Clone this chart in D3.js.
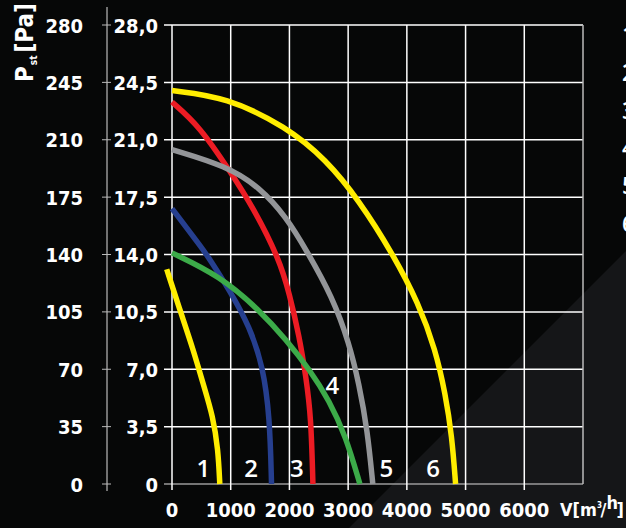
<!DOCTYPE html>
<html>
<head>
<meta charset="utf-8">
<script src="https://cdn.jsdelivr.net/npm/d3@7"></script>
<style>
  html, body { margin: 0; padding: 0; background: #060707; overflow: hidden; }
  svg { display: block; }
  .lbl { font-family: "Liberation Sans Narrow", "DejaVu Sans Condensed", sans-serif; font-weight: bold; fill: #fff; }
  .num { font-family: "Open Sans", "DejaVu Sans", sans-serif; font-weight: 600; fill: #fff; }
</style>
</head>
<body>
<svg width="626" height="528"></svg>
<script>
// ticks
var paTicks = [0, 35, 70, 105, 140, 175, 210, 245, 280];
var mmTicks = ["0", "3,5", "7,0", "10,5", "14,0", "17,5", "21,0", "24,5", "28,0"];
var flowTicks = [0, 1000, 2000, 3000, 4000, 5000, 6000];

// fan curves, [m3/h, Pa]
var curve1 = [[-90, 131], [136, 106], [362, 82], [531, 61], [700, 41], [785, 21], [814, 0]];
var curve2 = [[0, 168], [531, 143], [644, 137], [983, 118], [1322, 96], [1548, 72], [1665, 41], [1695, 0]];
var curve3 = [[0, 233], [475, 218], [983, 191], [1378, 169], [1830, 137], [2000, 116], [2169, 90], [2283, 65], [2368, 41], [2400, 0]];
var curve4 = [[0, 141], [814, 127], [1492, 106], [1944, 88], [2339, 70], [2678, 51], [2961, 29], [3200, 0]];
var curve5 = [[0, 204], [927, 194], [1492, 181], [1944, 163], [2283, 143], [2734, 114], [3017, 86], [3186, 61], [3328, 33], [3420, 0]];
var curve6 = [[0, 240], [927, 236], [1944, 218], [2622, 198], [3186, 173], [3751, 141], [4203, 110], [4486, 82], [4656, 55], [4768, 29], [4830, 0]];

var curveNames = ["1", "2", "3", "4", "5", "6"];
var curveColors = ["#ffed00", "#263f8f", "#ec1c24", "#3cab49", "#939598", "#ffed00"];
// where each number sits, [m3/h, Pa]
var labelPos = [[534, 4], [1347, 4], [2127, 4], [2730, 55], [3653, 4], [4449, 4]];

var svg = d3.select("svg");

// lighter diagonal in the lower right corner
svg.append("path")
  .attr("d", "M349,528 L626,251 L626,528 Z")
  .attr("fill", "#151618");

var x = d3.scaleLinear().domain([0, 7000]).range([172, 583]);
var y = d3.scaleLinear().domain([0, 280]).range([484, 25]);

// grid
var grid = svg.append("g");
grid.selectAll("line.h")
  .data(paTicks)
  .enter().append("line")
  .attr("x1", 164).attr("x2", x(7000))
  .attr("y1", d => y(d)).attr("y2", d => y(d))
  .attr("stroke", d => d === 0 ? "#9a9a9a" : "#fff")
  .attr("stroke-width", 1.5);
grid.selectAll("line.v")
  .data(flowTicks)
  .enter().append("line")
  .attr("x1", d => x(d)).attr("x2", d => x(d))
  .attr("y1", y(280)).attr("y2", 490)
  .attr("stroke", "#fff")
  .attr("stroke-width", 1.5);
grid.append("line")
  .attr("x1", x(7000)).attr("x2", x(7000))
  .attr("y1", y(280)).attr("y2", y(0))
  .attr("stroke", "#bbb").attr("stroke-width", 1.5);

// outer Pa axis
svg.append("line")
  .attr("x1", 107).attr("x2", 107).attr("y1", 7).attr("y2", 491)
  .attr("stroke", "#ddd").attr("stroke-width", 1);
svg.selectAll("line.pt")
  .data(paTicks)
  .enter().append("line")
  .attr("x1", 102).attr("x2", 111)
  .attr("y1", d => y(d)).attr("y2", d => y(d))
  .attr("stroke", "#bbb").attr("stroke-width", 1);

svg.selectAll("text.pa")
  .data(paTicks)
  .enter().append("text")
  .attr("class", "lbl")
  .attr("x", 83).attr("y", d => y(d) + 7.5)
  .attr("text-anchor", "end")
  .style("font-size", "20px")
  .text(d => d);

svg.selectAll("text.mm")
  .data(mmTicks)
  .enter().append("text")
  .attr("class", "lbl")
  .attr("x", 158).attr("y", (d, i) => y(paTicks[i]) + 7.5)
  .attr("text-anchor", "end")
  .style("font-size", "20px")
  .text(d => d);

svg.selectAll("text.fl")
  .data(flowTicks)
  .enter().append("text")
  .attr("class", "lbl")
  .attr("x", d => x(d)).attr("y", 517)
  .attr("text-anchor", "middle")
  .style("font-size", "20px")
  .text(d => d);

// axis titles
var vt = svg.append("text").attr("class", "lbl")
  .attr("x", 560).attr("y", 516).style("font-size", "18px");
vt.append("tspan").text("V[m");
vt.append("tspan").attr("x", 597).attr("dy", -8).style("font-size", "8px").text("3");
vt.append("tspan").attr("x", 600.5).attr("dy", 8).text("/");
vt.append("tspan").attr("x", 606.5).attr("dy", -7).text("h");
vt.append("tspan").attr("x", 616.5).attr("dy", 7).text("]");

var pt = svg.append("text").attr("class", "lbl")
  .attr("transform", "translate(33,82) rotate(-90)")
  .style("font-size", "24px");
pt.append("tspan").text("P");
pt.append("tspan").attr("dy", 4).attr("dx", 1).style("font-size", "10px").text("st");
pt.append("tspan").attr("dy", -4).attr("dx", 3).text("[Pa]");

// curves
var line = d3.line()
  .x(d => x(d[0])).y(d => y(d[1]))
  .curve(d3.curveBasis);

var curves = [curve1, curve2, curve3, curve4, curve5, curve6];
svg.append("g").selectAll("path")
  .data(curves)
  .enter().append("path")
  .attr("d", line)
  .attr("fill", "none")
  .attr("stroke", (d, i) => curveColors[i])
  .attr("stroke-width", 5.5);

svg.append("g").selectAll("text")
  .data(curveNames)
  .enter().append("text")
  .attr("class", "num")
  .attr("x", (d, i) => x(labelPos[i][0]))
  .attr("y", (d, i) => y(labelPos[i][1]))
  .attr("text-anchor", "middle")
  .style("font-size", "24px")
  .text(d => d);

// legend numbers cut by the right edge
svg.append("g").selectAll("text")
  .data(curveNames)
  .enter().append("text")
  .attr("class", "num")
  .attr("x", 622)
  .attr("y", (d, i) => 43 + i * 37.8)
  .style("font-size", "23px")
  .text(d => d);
</script>
</body>
</html>
